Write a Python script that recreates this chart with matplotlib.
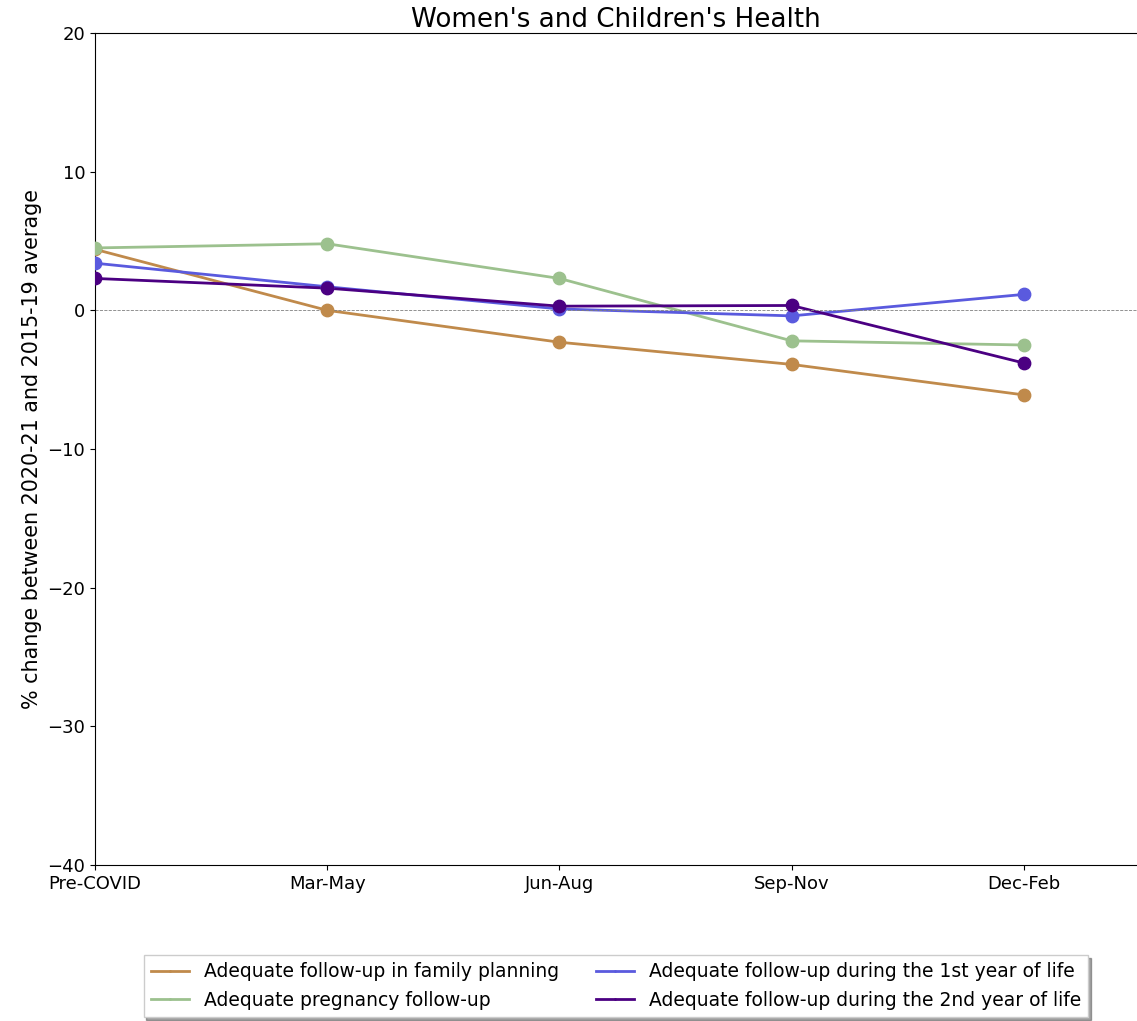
import matplotlib
matplotlib.use('Agg')
import matplotlib.pyplot as plt

periods = ['Pre-COVID', 'Mar-May', 'Jun-Aug', 'Sep-Nov', 'Dec-Feb']

family_planning = [4.4, 0.0, -2.3, -3.9, -6.1]
pregnancy = [4.5, 4.8, 2.3, -2.2, -2.5]
first_year = [3.4, 1.7, 0.1, -0.4, 1.15]
second_year = [2.3, 1.6, 0.3, 0.35, -3.8]

series = [
    ('Adequate follow-up in family planning', family_planning, '#c08a4b'),
    ('Adequate pregnancy follow-up', pregnancy, '#9cc18e'),
    ('Adequate follow-up during the 1st year of life', first_year, '#5a5ade'),
    ('Adequate follow-up during the 2nd year of life', second_year, '#4b0082'),
]

fig = plt.figure(figsize=(11.37, 10.21), dpi=100)
ax = fig.add_axes([95 / 1137, 1 - 865 / 1021, 1 - 95 / 1137, 832 / 1021])

x = list(range(len(periods)))
for label, vals, color in series:
    ax.plot(x, vals, color=color, lw=2, marker='.', markersize=2, label=label)
    ax.scatter(x, vals, color=color, s=80, zorder=3)

ax.axhline(0, color='gray', ls='--', lw=0.6)

ax.set_xlim(0, 4.487)
ax.set_ylim(-40, 20)
ax.set_yticks([-40, -30, -20, -10, 0, 10, 20])
ax.set_xticks(x)
ax.set_xticklabels(periods)
ax.tick_params(labelsize=13)
ax.spines['right'].set_visible(False)

ax.set_title("Women's and Children's Health", fontsize=18.8, pad=3)
ax.set_ylabel('% change between 2020-21 and 2015-19 average', fontsize=14.9)

ax.legend(loc='upper center', bbox_to_anchor=(0.5, -0.108), borderaxespad=0,
          ncol=2, shadow=True, fontsize=13.5, fancybox=False)

plt.savefig('out.png', dpi=100, facecolor='white')
plt.close()
